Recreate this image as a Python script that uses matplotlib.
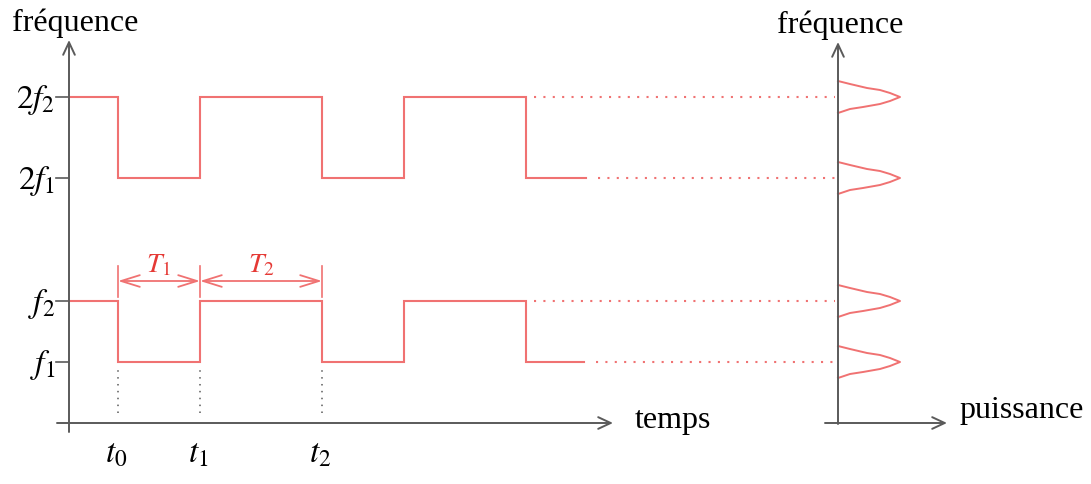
import matplotlib
matplotlib.use("Agg")
import matplotlib.pyplot as plt

# ---------------- data ----------------
# frequency levels (arbitrary units above the time axis)
f1, f2 = 61, 122          # fundamental levels
h1, h2 = 245, 326         # harmonic levels (2f1, 2f2)
level_values = [f1, f2, h1, h2]
level_labels = [r"$f_1$", r"$f_2$", r"$2f_1$", r"$2f_2$"]

# switching instants of the square frequency signal
switch_times = [49, 131, 253, 335, 457]
signal_end = [515, 517]               # end of the low (f) / high (2f) traces
time_labels = [r"$t_0$", r"$t_1$", r"$t_2$"]
period_labels = [r"$T_1$", r"$T_2$"]

# spectral line profile (offset in frequency, power)
peak_df = [16, 13, 9, 7, 4, 0, -4, -7, -10, -12, -16]
peak_pw = [0, 12, 29, 42, 52, 62, 52, 42, 25, 12, 0]

# ---------------- style ----------------
RED = "#f07272"
RED_TXT = "#e53935"
GRAY = "#5a5a5a"
plt.rcParams["font.family"] = ["Liberation Serif", "DejaVu Serif"]
plt.rcParams["mathtext.fontset"] = "stix"

fig = plt.figure(figsize=(10.91, 4.84), dpi=100)
ax = fig.add_axes([0, 0, 1, 1])
ax.set_xlim(-69, 1022)
ax.set_ylim(-61, 423)
ax.axis("off")

spec_x0 = 769            # position of the spectrum's frequency axis
txt = 23
mtxt = 24

def axis_arrow(x0, y0, x1, y1):
    ax.annotate("", xy=(x1, y1), xytext=(x0, y0),
                arrowprops=dict(arrowstyle="->,head_length=0.6,head_width=0.28",
                                color=GRAY, lw=1.4, mutation_scale=15,
                                shrinkA=0, shrinkB=0))

# time-frequency axes
axis_arrow(0, -9, 0, 383)
axis_arrow(-12, 0, 544, 0)
# spectrum axes
axis_arrow(spec_x0, -1, spec_x0, 381)
axis_arrow(spec_x0 - 13, 0, spec_x0 + 109, 0)

# level ticks + labels
for v, lab in zip(level_values, level_labels):
    ax.plot([-13, 0], [v, v], color=GRAY, lw=1.2)
    ax.text(-14, v - 3, lab, ha="right", va="center", fontsize=mtxt)

# square signals
for lo, hi, end in [(f1, f2, signal_end[0]), (h1, h2, signal_end[1])]:
    xs = [0] + switch_times + [end]
    ys = [hi, lo, hi, lo, hi, lo, lo]
    ax.plot(xs, ys, drawstyle="steps-post", color=RED, lw=1.5,
            solid_joinstyle="miter")
    # dotted continuation to the spectrum
    ax.plot([switch_times[-1] + 8, spec_x0 - 3], [hi, hi], color=RED, lw=1.5,
            linestyle=(0, (1, 3.5)))
    ax.plot([end + 12, spec_x0 - 3], [lo, lo], color=RED, lw=1.5,
            linestyle=(0, (1, 3.5)))

# time markers
for t, lab in zip(switch_times[:3], time_labels):
    ax.plot([t, t], [10, f1 - 8], color=GRAY, lw=1.1, linestyle=(0, (1, 3.5)))
    ax.text(t - 2, -31, lab, ha="center", va="center", fontsize=mtxt)

# period arrows
bar_lo, bar_hi, arr_y = 126, 157, 142
for t in switch_times[:3]:
    ax.plot([t, t], [bar_lo, bar_hi], color=RED, lw=1.2)
for a, b, lab in zip(switch_times[:2], switch_times[1:3], period_labels):
    ax.annotate("", xy=(b, arr_y), xytext=(a, arr_y),
                arrowprops=dict(arrowstyle="<->,head_length=0.9,head_width=0.28",
                                color=RED, lw=1.3, mutation_scale=15,
                                shrinkA=0, shrinkB=0))
    ax.text((a + b) / 2, 157, lab, ha="center", va="center",
            fontsize=20, color=RED_TXT)

# spectral lines
for v in level_values:
    ax.plot([spec_x0 + p for p in peak_pw], [v + d for d in peak_df],
            color=RED, lw=1.4)

# axis titles
ax.text(-57, 392, "fréquence", ha="left", va="baseline", fontsize=txt)
ax.text(708, 390, "fréquence", ha="left", va="baseline", fontsize=txt)
ax.text(566, -5, "temps", ha="left", va="baseline", fontsize=txt)
ax.text(890, 5, "puissance", ha="left", va="baseline", fontsize=txt)

fig.savefig("out.png", dpi=100)
